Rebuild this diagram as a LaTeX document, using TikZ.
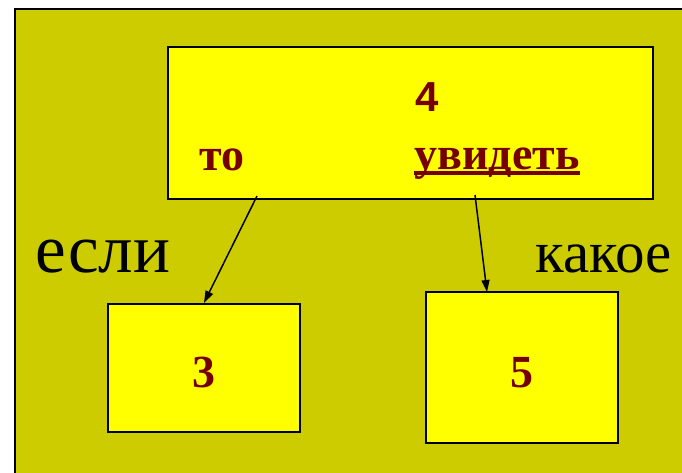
\documentclass[tikz,border=0pt]{standalone}
\usepackage{fontspec}
\setmainfont{Liberation Serif}
\newfontfamily\arialfont{Liberation Sans}
\usetikzlibrary{arrows.meta}
\definecolor{slidebg}{HTML}{CCCC00}
\definecolor{boxyellow}{HTML}{FFFF00}
\definecolor{wordred}{HTML}{760000}

\begin{document}
\begin{tikzpicture}[x=1pt,y=-1pt,
  box/.style={draw=black, line width=2.2pt, fill=boxyellow, inner sep=0pt},
  redword/.style={text=wordred, font=\fontsize{46}{46}\selectfont\bfseries, anchor=base, inner sep=0pt},
  bigword/.style={font=\fontsize{69}{69}\selectfont, anchor=base, inner sep=0pt},
  link/.style={line width=1.5pt, -{Triangle[length=12pt,width=8pt]}}]
            \useasboundingbox (0,0) rectangle (682,473);
            \clip (0,0) rectangle (682,473);
            \draw[fill=slidebg, line width=2.2pt] (15,9) rectangle (720,520);

            \node[box, minimum width=485pt, minimum height=152pt] (frame4) at (410.5,123) {};
            \node[redword, font=\arialfont\fontsize{42}{42}\selectfont\bfseries] (num4) at (427,112) {4};
            \node[redword] (wordto) at (222,171) {то};
            \node[redword] (wordsee) at (497,170) {увидеть};
            \draw[wordred, line width=3.5pt] ([yshift=-3pt]wordsee.base west) -- ([yshift=-3pt]wordsee.base east);

            \foreach \n/\x/\y/\w/\h in {3/204/368/192/128, 5/522/367.5/192/151} {
                \node[box, minimum width=\w pt, minimum height=\h pt] (frame\n) at (\x,\y) {};
                \node[redword] (num\n) at (\x,387) {\n};
              }

            \node[bigword] (wordif) at (103,272) {если};
            \node[bigword, font=\fontsize{59}{59}\selectfont] (wordwhich) at (604,272) {какое};

            \coordinate (from3) at (257,196);
            \coordinate (from5) at (475,195);
            \coordinate (to5) at (487,292);
            \draw[link] (from3) -- (frame3.north);
            \draw[link] (from5) -- (to5);
            \end{tikzpicture}
\end{document}
